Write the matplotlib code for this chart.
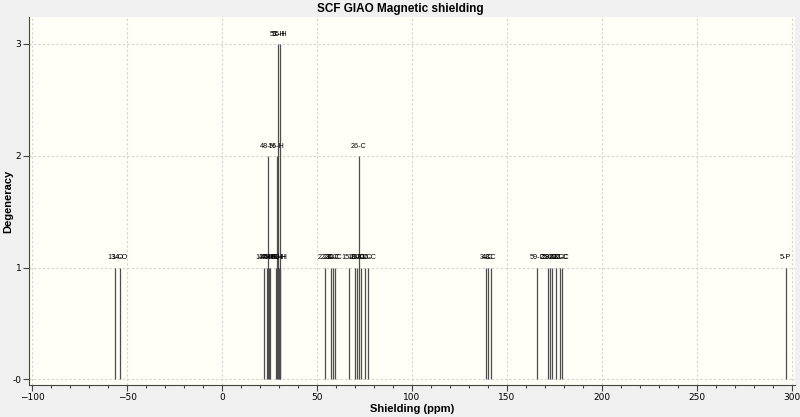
import matplotlib
matplotlib.use("Agg")
import matplotlib.pyplot as plt
from matplotlib.ticker import MultipleLocator, FixedLocator

# Data
shielding = [-56.3, -53.8,
             21.9, 23.7, 24.0, 24.6, 25.2, 28.3, 28.7, 29.3, 29.8, 30.3, 30.6,
             54.4, 57.2, 58.2, 59.4, 67.0, 70.0, 71.0, 72.0, 73.0, 75.2, 77.0,
             139.0, 140.0, 141.4,
             166.0, 171.6, 172.5, 173.8, 176.0, 178.0, 178.8,
             296.7]
degeneracy = [1, 1,
              1, 1, 2, 1, 1, 1, 2, 3, 1, 3, 1,
              1, 1, 1, 1, 1, 1, 1, 2, 1, 1, 1,
              1, 1, 1,
              1, 1, 1, 1, 1, 1, 1,
              1]
atom_labels = ["13-O", "14-O",
               "12-H", "47-H", "48-H", "45-H", "46-H", "50-H", "56-H", "53-H", "51-H", "55-H", "49-H",
               "22-C", "23-C", "24-C", "21-C", "15-C", "18-C", "19-C", "26-C", "17-C", "20-C", "16-C",
               "3-C", "4-C", "2-C",
               "59-C", "25-C", "28-C", "30-C", "29-C", "27-C", "31-C",
               "5-P"]

x_ticks = [-100, -50, 0, 50, 100, 150, 200, 250, 300]
y_ticks = [0, 1, 2, 3]
y_tick_labels = ["-0", "1", "2", "3"]

fig = plt.figure(figsize=(8, 4.17), dpi=100, facecolor="#f0f0f0")
ax = fig.add_axes([29/800, (417-385)/417, (795-29)/800, (385-17)/417])
ax.set_facecolor("#fffff7")

ax.vlines(shielding, 0, degeneracy, colors="#4d4d4d", linewidth=0.9, zorder=3)
for x, d, lab in zip(shielding, degeneracy, atom_labels):
    ax.text(x, d + 0.055, lab, ha="center", va="bottom", fontsize=5.2,
            family="Liberation Sans", color="black", zorder=4)

ax.set_xlim(-101.7, 301.7)
ax.set_ylim(-0.05, 3.24)
ax.xaxis.set_major_locator(FixedLocator(x_ticks))
ax.xaxis.set_minor_locator(MultipleLocator(10))
ax.yaxis.set_major_locator(FixedLocator(y_ticks))
ax.set_yticklabels(y_tick_labels)

ax.grid(True, which="major", linestyle=(0, (2, 2)), color="#d2d2d2", linewidth=0.8, zorder=0)
ax.set_axisbelow(True)

for s in ["top", "right"]:
    ax.spines[s].set_visible(False)
for s in ["left", "bottom"]:
    ax.spines[s].set_color("#444444")
    ax.spines[s].set_linewidth(0.8)

ax.tick_params(axis="both", which="major", labelsize=6.5, length=4, width=0.8, color="#444444", pad=1.5)
ax.tick_params(axis="x", which="minor", length=2.5, width=0.8, color="#444444")

ax.set_xlabel("Shielding (ppm)", fontsize=8, fontweight="bold", family="Liberation Sans")
ax.set_ylabel("Degeneracy", fontsize=8, fontweight="bold", family="Liberation Sans")
ax.xaxis.set_label_coords(0.5, (385-404)/368)
ax.yaxis.set_label_coords((13-29)/766, 0.5)
fig.text(0.5, 1 - 9/417, "SCF GIAO Magnetic shielding", ha="center", va="center",
         fontsize=8.5, fontweight="bold", family="Liberation Sans")

fig.savefig("out.png", dpi=100, facecolor=fig.get_facecolor())
